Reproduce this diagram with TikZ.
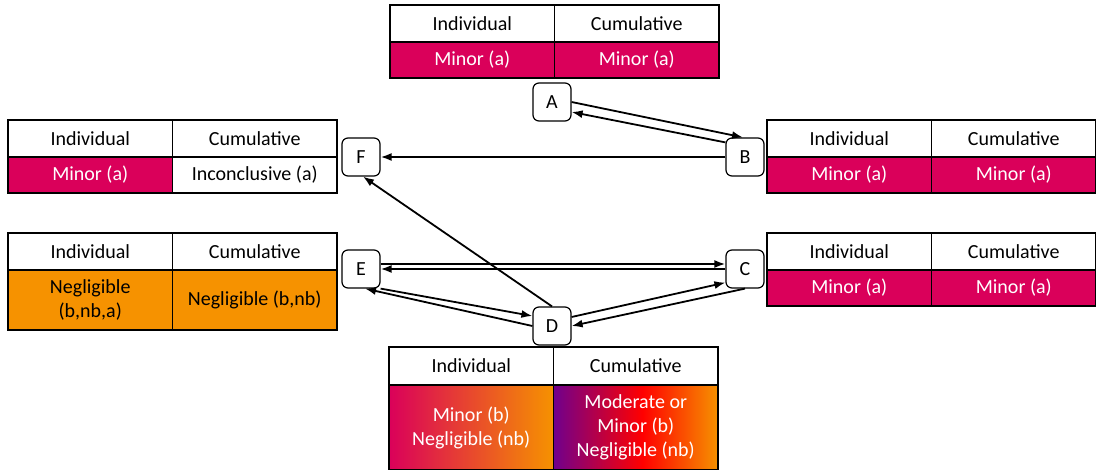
\documentclass[tikz,border=0pt]{standalone}
\usepackage{fontspec}
\setmainfont{Carlito}
\usetikzlibrary{positioning,arrows.meta}

\definecolor{minorpink}{RGB}{218,0,90}
\definecolor{negorange}{RGB}{246,146,0}
\definecolor{modpurple}{RGB}{112,0,140}
\pgfdeclarehorizontalshading{modshade}{100bp}{color(0bp)=(modpurple); color(25bp)=(modpurple); color(52bp)=(red); color(75bp)=(negorange); color(100bp)=(negorange)}

\tikzset{
  cell/.style={draw, line width=1.2pt, outer sep=0pt, inner sep=0pt, minimum width=164.5pt, minimum height=37pt, align=center, anchor=north west, font=\fontsize{20}{24}\selectfont},
  hdr/.style={cell, fill=white},
  minor/.style={cell, fill=minorpink, text=white},
  neg/.style={cell, fill=negorange},
  letter/.style={draw, line width=1.2pt, rounded corners=6pt, minimum size=38pt, inner sep=0pt, fill=white, font=\fontsize{20}{24}\selectfont},
  link/.style={-{Latex[length=11pt,width=8pt]}, line width=1.8pt}
}

\begin{document}
\begin{tikzpicture}[x=1pt,y=-1pt]
  \useasboundingbox (0,0) rectangle (1096,470);

  % table A
  \node[hdr] (aInd) at (390,5) {Individual};
  \node[hdr, right=0pt of aInd] (aCum) {Cumulative};
  \node[minor, below=0pt of aInd, minimum height=36pt] (aIndV) {Minor (a)};
  \node[minor, below=0pt of aCum, minimum height=36pt] (aCumV) {Minor (a)};

  % table F
  \node[hdr] (fInd) at (8,120) {Individual};
  \node[hdr, right=0pt of fInd] (fCum) {Cumulative};
  \node[minor, below=0pt of fInd, minimum height=36pt] (fIndV) {Minor (a)};
  \node[cell, below=0pt of fCum, minimum height=36pt] (fCumV) {Inconclusive (a)};

  % table B
  \node[hdr] (bInd) at (767,120) {Individual};
  \node[hdr, right=0pt of bInd] (bCum) {Cumulative};
  \node[minor, below=0pt of bInd, minimum height=36pt] (bIndV) {Minor (a)};
  \node[minor, below=0pt of bCum, minimum height=36pt] (bCumV) {Minor (a)};

  % table E
  \node[hdr] (eInd) at (8,233) {Individual};
  \node[hdr, right=0pt of eInd] (eCum) {Cumulative};
  \node[neg, below=0pt of eInd, minimum height=60pt] (eIndV) {Negligible\\(b,nb,a)};
  \node[neg, below=0pt of eCum, minimum height=60pt] (eCumV) {Negligible (b,nb)};

  % table C
  \node[hdr] (cInd) at (767,233) {Individual};
  \node[hdr, right=0pt of cInd] (cCum) {Cumulative};
  \node[minor, below=0pt of cInd, minimum height=36pt] (cIndV) {Minor (a)};
  \node[minor, below=0pt of cCum, minimum height=36pt] (cCumV) {Minor (a)};

  % table D
  \node[hdr, minimum height=38pt] (dInd) at (389,347) {Individual};
  \node[hdr, minimum height=38pt, right=0pt of dInd] (dCum) {Cumulative};
  \node[cell, below=0pt of dInd, minimum height=85pt, left color=minorpink, right color=negorange, text=white] (dIndV) {Minor (b)\\Negligible (nb)};
  \node[cell, below=0pt of dCum, minimum height=85pt, shading=modshade, text=white] (dCumV) {Moderate or\\Minor (b)\\Negligible (nb)};

  % scenario boxes
  \node[letter] (A) at (552,102) {A};
  \node[letter] (B) at (745,157) {B};
  \node[letter] (C) at (745,269) {C};
  \node[letter] (D) at (552,326) {D};
  \node[letter] (E) at (361,269) {E};
  \node[letter] (F) at (361,157) {F};

  % transitions
  \draw[link] (A.east) -- ([xshift=-2pt]B.north);
  \draw[link] ([yshift=-5pt]B.north west) -- ([yshift=-10pt]A.east);
  \draw[link] (B.west) -- (F.east);
  \draw[link] (D.north) -- ([xshift=2pt]F.south);
  \draw[link] ([yshift=5pt]E.east) -- ([yshift=5pt]C.west);
  \draw[link] (C.west) -- (E.east);
  \draw[link] (E.south east) -- ([yshift=10pt]D.west);
  \draw[link] (D.west) -- ([xshift=4pt]E.south);
  \draw[link] ([yshift=9pt]D.east) -- ([yshift=6pt]C.south west);
  \draw[link] (C.south) -- (D.east);
\end{tikzpicture}
\end{document}
